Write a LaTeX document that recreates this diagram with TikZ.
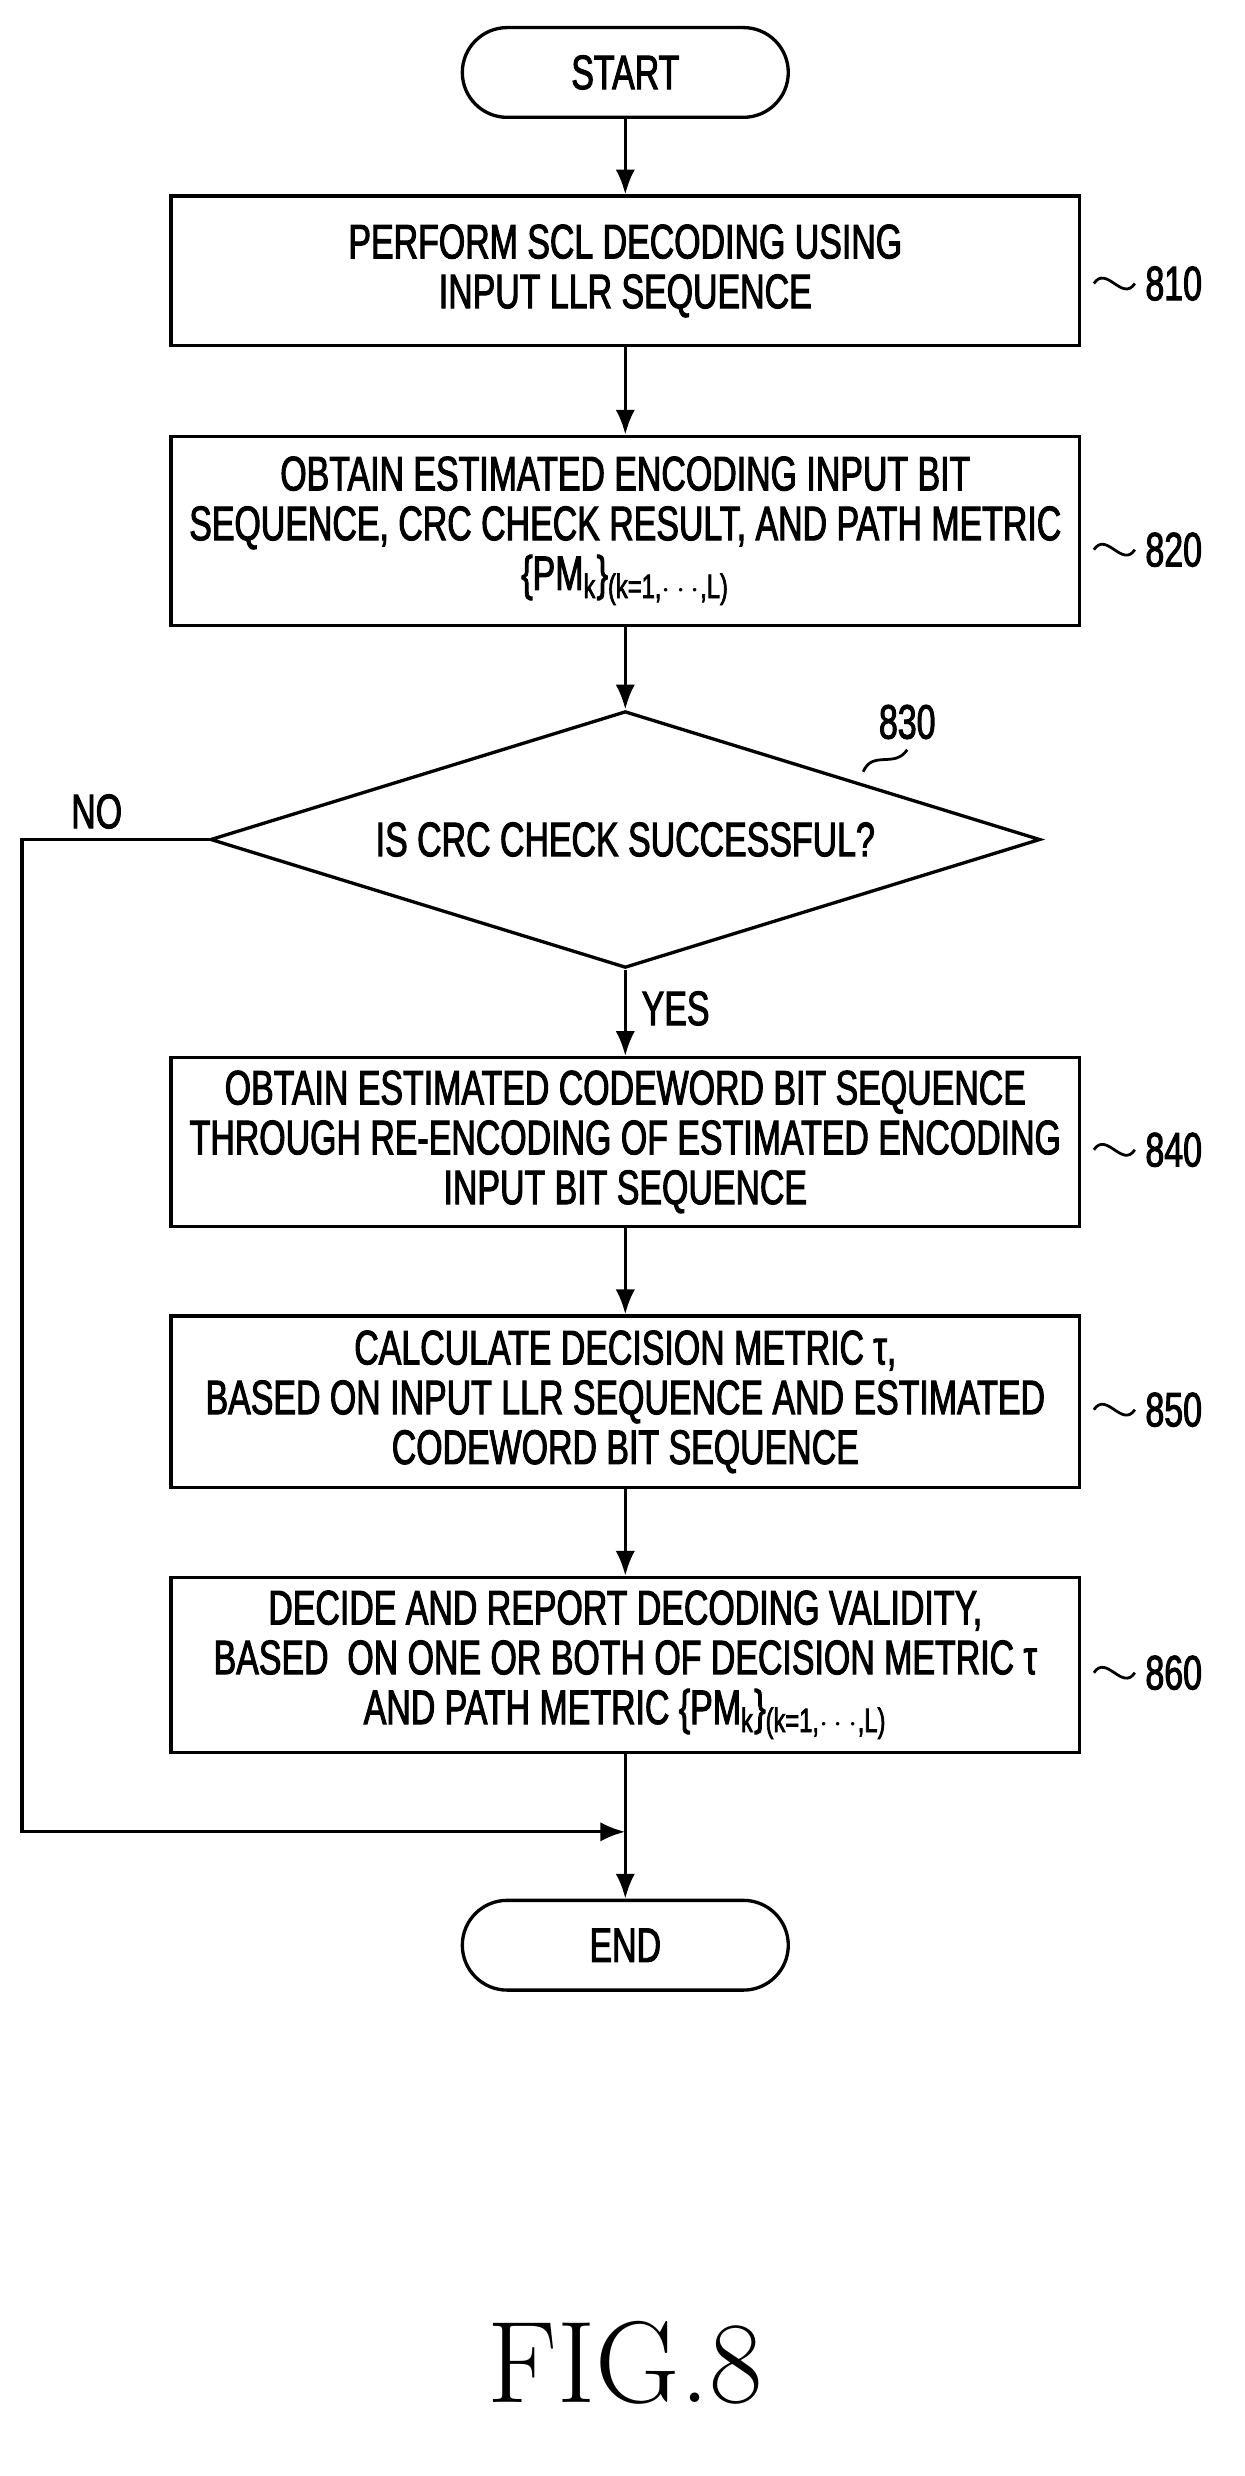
\documentclass[tikz,border=0pt]{standalone}
\usepackage{fontspec}
\newfontfamily\boxfont{Liberation Sans}[FakeStretch=0.70,FakeBold=2]
\usetikzlibrary{shapes.geometric,arrows.meta}
\tikzset{
  procbox/.style={draw, line width=1.2pt, minimum width=11.54cm, align=center,
    font=\boxfont\fontsize{17.5}{18}\selectfont},
  term/.style={draw, line width=1.2pt, rounded corners=0.57cm, minimum width=4.14cm,
    minimum height=1.14cm, font=\boxfont\fontsize{17.5}{18}\selectfont},
  arr/.style={line width=1.2pt, -{Latex[length=9pt,width=7pt]}},
  tag/.style={font=\boxfont\fontsize{17.5}{18}\selectfont, anchor=west},
  wave/.style={line width=1pt}
}
\begin{document}
\begin{tikzpicture}[x=0.02cm,y=-0.02cm]
\useasboundingbox (0,0) rectangle (790,1572);

\node[term] (start) at (397,46) {START};
\node[procbox, minimum height=1.9cm] (b810) at (397,172) {PERFORM SCL DECODING USING\\INPUT LLR SEQUENCE};
\node[procbox, minimum height=2.4cm] (b820) at (397,337) {OBTAIN ESTIMATED ENCODING INPUT BIT\\SEQUENCE, CRC CHECK RESULT, AND PATH METRIC\\\{PM\textsubscript{k}\}\textsubscript{(k=1,$\cdots$,L)}};
\node[draw, diamond, aspect=3.23, line width=1.2pt, minimum width=10.54cm, minimum height=3.26cm, inner sep=0pt,
  font=\boxfont\fontsize{17.5}{18}\selectfont] (d830) at (397,533) {IS CRC CHECK SUCCESSFUL?};
\node[procbox, minimum height=2.14cm] (b840) at (397,725) {OBTAIN ESTIMATED CODEWORD BIT SEQUENCE\\THROUGH RE-ENCODING OF ESTIMATED ENCODING\\INPUT BIT SEQUENCE};
\node[procbox, minimum height=2.18cm] (b850) at (397,890) {CALCULATE DECISION METRIC τ,\\BASED ON INPUT LLR SEQUENCE AND ESTIMATED\\CODEWORD BIT SEQUENCE};
\node[procbox, minimum height=2.22cm] (b860) at (397,1057) {DECIDE AND REPORT DECODING VALIDITY,\\BASED\ \ ON ONE OR BOTH OF DECISION METRIC τ\\AND PATH METRIC \{PM\textsubscript{k}\}\textsubscript{(k=1,$\cdots$,L)}};
\node[term] (end) at (397,1235) {END};
\coordinate (merge) at (397,1163);
\coordinate (nocorner) at (14,533);

\draw[arr] (start) -- (b810);
\draw[arr] (b810) -- (b820);
\draw[arr] (b820) -- (d830);
\draw[arr] (d830) -- node[tag, pos=0.45, xshift=2pt] {YES} (b840);
\draw[arr] (b840) -- (b850);
\draw[arr] (b850) -- (b860);
\draw[arr] (b860) -- (end);
\draw[arr] (d830.west) -- node[font=\boxfont\fontsize{17.5}{18}\selectfont, above, pos=0.6] {NO} (nocorner) |- (merge);

% reference numerals
\foreach \b/\n/\dy in {b810/810/8, b820/820/12, b840/840/5, b850/850/5, b860/860/5} {
  \draw[wave] ([shift={(8,\dy)}]\b.east) .. controls +(8,-12) and +(-8,12) .. ++(26,0)
    node[tag] {\n};
}
\draw[wave] (548,490) .. controls +(6,-14) and +(-8,12) .. (576,476) node[font=\boxfont\fontsize{17.5}{18}\selectfont, above] {830};

\node[font=\fontsize{42}{46}\selectfont] (fig) at (397,1500) {FIG.8};
\end{tikzpicture}
\end{document}
